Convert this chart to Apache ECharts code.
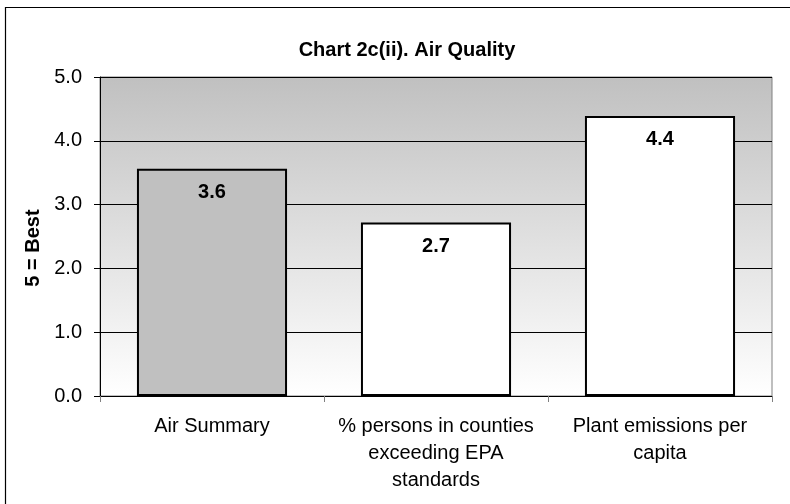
<!DOCTYPE html>
<html>
<head>
<meta charset="utf-8">
<script src="https://cdn.jsdelivr.net/npm/echarts@6/dist/echarts.min.js"></script>
<style>
  html, body { margin: 0; padding: 0; background: #fff; }
  #chart { width: 790px; height: 504px; }
</style>
</head>
<body>
<div id="chart"></div>
<script>
// chart data
var categories = ['Air Summary', '% persons in counties\nexceeding EPA\nstandards', 'Plant emissions per\ncapita'];
var scores = [3.56, 2.72, 4.39];
var barColors = ['#c0c0c0', '#ffffff', '#ffffff'];
var yTicks = [0, 1, 2, 3, 4, 5];

var TITLE = 'Chart 2c(ii). Air Quality';
var Y_NAME = '5 = Best';
var FONT = 'Liberation Sans, Arial, sans-serif';

var myChart = echarts.init(document.getElementById('chart'));

var option = {
    animation: false,
    backgroundColor: '#fff',
    title: {
        text: TITLE,
        left: 402,
        top: 35,
        textAlign: 'center',
        textStyle: { fontFamily: FONT, fontSize: 20, fontWeight: 'bold', color: '#000' }
    },
    graphic: [{
        type: 'rect',
        silent: true,
        shape: { x: 5.5, y: 7.5, width: 900, height: 600 },
        style: { fill: 'none', stroke: '#000', lineWidth: 1.2 }
    }, {
        type: 'text',
        x: 33,
        y: 248,
        rotation: Math.PI / 2,
        style: {
            text: Y_NAME,
            fontFamily: FONT, fontSize: 20, fontWeight: 'bold', fill: '#000',
            align: 'center', verticalAlign: 'middle'
        }
    }],
    grid: {
        left: 100, right: 18, top: 77, bottom: 108,
        show: true,
        borderColor: '#808080',
        borderWidth: 1,
        backgroundColor: {
            type: 'linear', x: 0, y: 0, x2: 0, y2: 1,
            colorStops: [{ offset: 0, color: '#c0c0c0' }, { offset: 1, color: '#ffffff' }]
        }
    },
    xAxis: {
        type: 'category',
        data: categories,
        axisLine: { lineStyle: { color: '#000', width: 1 } },
        axisTick: { show: true, length: 6, lineStyle: { color: '#808080' } },
        axisLabel: {
            interval: 0, margin: 17,
            fontFamily: FONT, fontSize: 20, lineHeight: 27, color: '#000', align: 'center'
        }
    },
    yAxis: {
        type: 'value',
        min: yTicks[0],
        max: yTicks[yTicks.length - 1],
        interval: 1,
        axisLine: { show: true, lineStyle: { color: '#000', width: 1 } },
        axisTick: { show: true, length: 6, lineStyle: { color: '#000' } },
        axisLabel: {
            margin: 18,
            fontFamily: FONT, fontSize: 20, color: '#000',
            formatter: function (v) { return v.toFixed(1); }
        },
        splitLine: { show: true, lineStyle: { color: '#000', width: 1 } }
    },
    series: [{
        type: 'bar',
        barCategoryGap: '33%',
        data: scores.map(function (v, i) {
            return { value: v, itemStyle: { color: barColors[i] } };
        }),
        itemStyle: { borderColor: '#000', borderWidth: 2 },
        label: {
            show: true,
            position: 'insideTop',
            distance: 14,
            fontFamily: FONT, fontSize: 20, fontWeight: 'bold', color: '#000',
            formatter: function (p) { return p.value.toFixed(1); }
        }
    }]
};

if (option && typeof option === "object") {
    myChart.setOption(option, true);
}
</script>
</body>
</html>
